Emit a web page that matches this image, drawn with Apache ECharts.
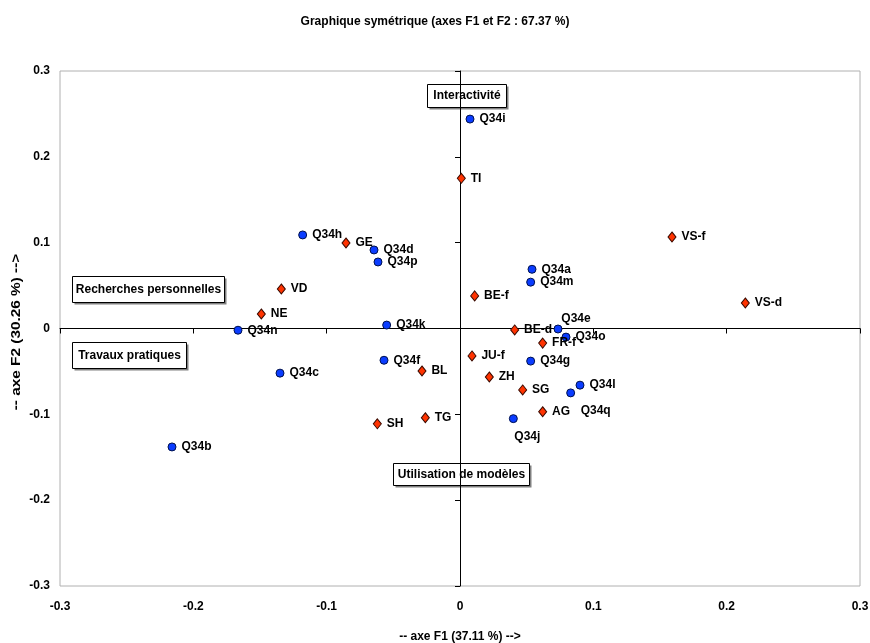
<!DOCTYPE html>
<html>
<head>
<meta charset="utf-8">
<script src="https://cdn.jsdelivr.net/npm/echarts@6/dist/echarts.min.js"></script>
<style>
  html, body { margin: 0; padding: 0; background: #fff; }
  #chart { width: 870px; height: 643px; }
</style>
</head>
<body>
<div id="chart"></div>
<script>
// questions (blue circles)
const qNames = ['Q34i', 'Q34h', 'Q34d', 'Q34p', 'Q34a', 'Q34m', 'Q34n', 'Q34k', 'Q34e', 'Q34o', 'Q34f', 'Q34g', 'Q34c', 'Q34l', 'Q34q', 'Q34j', 'Q34b'];
const qX = [0.0075, -0.118, -0.0645, -0.0615, 0.054, 0.053, -0.1665, -0.055, 0.0735, 0.0795, -0.057, 0.053, -0.135, 0.090, 0.083, 0.040, -0.216];
const qY = [0.244, 0.109, 0.0915, 0.0775, 0.069, 0.054, -0.002, 0.004, -0.0006, -0.010, -0.037, -0.038, -0.052, -0.066, -0.075, -0.105, -0.138];

// cantons (red diamonds)
const cNames = ['TI', 'VS-f', 'GE', 'VD', 'BE-f', 'VS-d', 'NE', 'BE-d', 'FR-f', 'JU-f', 'BL', 'ZH', 'SG', 'AG', 'TG', 'SH'];
const cX = [0.001, 0.159, -0.0855, -0.134, 0.011, 0.214, -0.149, 0.041, 0.062, 0.009, -0.0285, 0.022, 0.047, 0.062, -0.026, -0.062];
const cY = [0.175, 0.1066, 0.0996, 0.046, 0.038, 0.0297, 0.0169, -0.0017, -0.017, -0.032, -0.0495, -0.0565, -0.0716, -0.097, -0.104, -0.111];

// label placement exceptions
const labelPos = { 'Q34e': 'top', 'Q34q': 'bottom', 'Q34j': 'bottom' };
const labelOffset = { 'Q34e': [18, 5], 'Q34q': [25, 2], 'Q34j': [14, 3] };

function points(names, xs, ys) {
  return names.map((n, i) => {
    const item = { name: n, value: [xs[i], ys[i]] };
    if (labelPos[n] || labelOffset[n]) {
      item.label = { position: labelPos[n] || 'right', offset: labelOffset[n] || [0, 0] };
    }
    return item;
  });
}

const fmt = v => (v === 0 ? '0' : String(Math.round(v * 10) / 10));
const sans = '"Liberation Sans", Arial, sans-serif';

const pointLabel = {
  show: true,
  position: 'right',
  distance: 5,
  formatter: p => p.name,
  color: '#000',
  fontWeight: 'bold',
  fontSize: 12,
  fontFamily: sans
};

function box(left, top, w, h, text) {
  return {
    type: 'group',
    left: left,
    top: top,
    children: [
      { type: 'rect', shape: { x: 2, y: 2, width: w, height: h }, style: { fill: '#808080' } },
      { type: 'rect', shape: { x: 0, y: 0, width: w, height: h }, style: { fill: '#fff', stroke: '#000', lineWidth: 1 } },
      { type: 'text', x: w / 2, y: h / 2, style: { text: text, fill: '#000', font: 'bold 12px ' + sans, align: 'center', verticalAlign: 'middle' } }
    ]
  };
}

const chart = echarts.init(document.getElementById('chart'));
chart.setOption({
  animation: false,
  backgroundColor: '#fff',
  title: {
    text: 'Graphique symétrique (axes F1 et F2 : 67.37 %)',
    left: 'center',
    top: 11,
    textStyle: { fontSize: 12, fontWeight: 'bold', color: '#000', fontFamily: sans }
  },
  grid: {
    left: 60, right: 10, top: 71, bottom: 57,
    outerBoundsMode: 'none', containLabel: false,
    show: true, borderColor: '#b0b0b0', borderWidth: 1
  },
  xAxis: [
    {
      type: 'value', min: -0.3, max: 0.3, interval: 0.1, position: 'bottom',
      name: '-- axe F1 (37.11 %) -->', nameLocation: 'middle', nameGap: 45,
      nameTextStyle: { fontSize: 12, fontWeight: 'bold', color: '#000', fontFamily: sans },
      axisLine: { show: false }, axisTick: { show: false }, splitLine: { show: false },
      axisLabel: { formatter: fmt, margin: 15, fontSize: 12, fontWeight: 'bold', color: '#000', fontFamily: sans }
    },
    {
      type: 'value', min: -0.3, max: 0.3, interval: 0.1, position: 'bottom',
      axisLine: { show: true, onZero: true, onZeroAxisIndex: 0, lineStyle: { color: '#000', width: 1 } },
      axisTick: { show: true, length: 5, lineStyle: { color: '#000' } },
      axisLabel: { show: false }, splitLine: { show: false }
    }
  ],
  yAxis: [
    {
      type: 'value', min: -0.3, max: 0.3, interval: 0.1, position: 'left',
      axisLine: { show: false }, axisTick: { show: false }, splitLine: { show: false },
      axisLabel: { formatter: fmt, margin: 10, fontSize: 12, fontWeight: 'bold', color: '#000', fontFamily: sans }
    },
    {
      type: 'value', min: -0.3, max: 0.3, interval: 0.1, position: 'left',
      axisLine: { show: true, onZero: true, onZeroAxisIndex: 0, lineStyle: { color: '#000', width: 1 } },
      axisTick: { show: true, length: 5, lineStyle: { color: '#000' } },
      axisLabel: { show: false }, splitLine: { show: false }
    }
  ],
  series: [
    {
      name: 'Questions', type: 'scatter', xAxisIndex: 0, yAxisIndex: 0,
      symbol: 'circle', symbolSize: 8,
      itemStyle: { color: '#0a3cff', borderColor: '#00114d', borderWidth: 1, opacity: 1 },
      label: pointLabel,
      data: points(qNames, qX, qY),
      z: 3
    },
    {
      name: 'Cantons', type: 'scatter', xAxisIndex: 0, yAxisIndex: 0,
      symbol: 'diamond', symbolSize: [8, 10],
      itemStyle: { color: '#ff3300', borderColor: '#3a0a00', borderWidth: 1, opacity: 1 },
      label: pointLabel,
      data: points(cNames, cX, cY),
      z: 3
    }
  ],
  graphic: [
    {
      // y axis title, stretched like the original
      type: 'text', x: 17, y: 332, rotation: Math.PI / 2, scaleX: 1.28,
      style: { text: '-- axe F2 (30.26 %) -->', fill: '#000', font: 'bold 12px ' + sans, align: 'center', verticalAlign: 'middle' }
    },
    box(427, 84, 79, 23, 'Interactivité'),
    box(72, 276, 152, 26, 'Recherches personnelles'),
    box(72, 342, 114, 26, 'Travaux pratiques'),
    box(393, 463, 136, 22, 'Utilisation de modèles')
  ]
});
</script>
</body>
</html>
